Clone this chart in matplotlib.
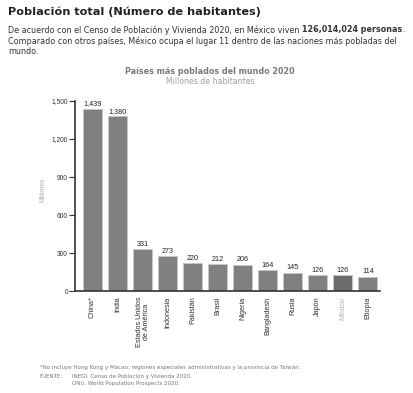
import matplotlib
matplotlib.use("Agg")
import matplotlib.pyplot as plt

paises = ["China*", "India", "Estados Unidos\nde América", "Indonesia", "Pakistán",
          "Brasil", "Nigeria", "Bangladesh", "Rusia", "Japón", "México", "Etiopía"]
poblacion = [1439, 1380, 331, 273, 220, 212, 206, 164, 145, 126, 126, 114]
y_ticks = [0, 300, 600, 900, 1200, 1500]

W, H = 414, 393
fig = plt.figure(figsize=(W / 100, H / 100), dpi=100)

def px(x, y):
    return x / W, 1 - y / H

# textos de encabezado
fig.text(*px(8, 12), "Población total (Número de habitantes)", fontsize=8.1,
         fontweight="bold", family="DejaVu Sans", color="#222222", va="center")
body = dict(fontsize=5.75, family="DejaVu Sans", color="#333333", va="center")
t1 = fig.text(*px(8, 30), "De acuerdo con el Censo de Población y Vivienda 2020, en México viven", **body)
fig.canvas.draw()
bb = t1.get_window_extent(renderer=fig.canvas.get_renderer())
t2 = fig.text((bb.x1 + 3) / W, 1 - 30 / H, "126,014,024 personas", fontweight="bold", **body)
fig.canvas.draw()
bb2 = t2.get_window_extent(renderer=fig.canvas.get_renderer())
fig.text((bb2.x1 - 0.5) / W, 1 - 30 / H, ".", **body)
fig.text(*px(8, 41), "Comparado con otros países, México ocupa el lugar 11 dentro de las naciones más pobladas del", **body)
fig.text(*px(8, 52), "mundo.", **body)

fig.text(*px(210, 71), "Países más poblados del mundo 2020", fontsize=5.8, fontweight="bold",
         family="DejaVu Sans", color="#7a7a7a", ha="center", va="center")
fig.text(*px(210, 81), "Millones de habitantes", fontsize=5.6, family="DejaVu Sans",
         color="#a0a0a0", ha="center", va="center")

# gráfica
left, right, top, bottom = 75, 380, 101, 291
ax = fig.add_axes([left / W, 1 - bottom / H, (right - left) / W, (bottom - top) / H])
x = list(range(len(paises)))
colores = ["#808080"] * len(paises)
colores[10] = "#6c6c6c"
ax.bar(x, poblacion, width=0.76, color=colores, edgecolor="#c8c8c8", linewidth=0.6)
for xi, v in zip(x, poblacion):
    ax.text(xi, v + 12, f"{v:,}", ha="center", va="bottom", fontsize=5.2,
            family="Liberation Sans", color="#222222")

ax.set_xlim(-0.7, 11.48)
ax.set_ylim(0, 1500)
ax.set_yticks(y_ticks)
ax.set_yticklabels([f"{t:,}" for t in y_ticks], fontsize=4.8, family="Liberation Sans", color="#333333")
ax.set_xticks(x)
ax.set_xticklabels(paises, rotation=90, fontsize=5.2, family="Liberation Sans",
                   color="#333333", linespacing=1.0)
ax.get_xticklabels()[10].set_color("#b0b0b0")
ax.tick_params(axis="x", length=0, pad=4)
ax.tick_params(axis="y", length=4, width=0.8, color="#333333", pad=1)
for s in ["top", "right"]:
    ax.spines[s].set_visible(False)
for s in ["left", "bottom"]:
    ax.spines[s].set_linewidth(1.2)
    ax.spines[s].set_color("#333333")
ax.set_ylabel("Millones", fontsize=4.8, family="Liberation Sans", color="#b0b0b0")
ax.yaxis.set_label_coords(-0.092, 0.53)

# notas
nota = dict(fontsize=3.95, family="DejaVu Sans", color="#777777", va="center")
fig.text(*px(40, 367), "*No incluye Hong Kong y Macao: regiones especiales administrativas y la provincia de Taiwán.", **nota)
fig.text(*px(40, 376), "FUENTE:", **nota)
fig.text(*px(72, 376), "INEGI. Censo de Población y Vivienda 2020.", **nota)
fig.text(*px(72, 383), "ONU. World Population Prospects 2020.", **nota)

fig.savefig("out.png", dpi=100)
